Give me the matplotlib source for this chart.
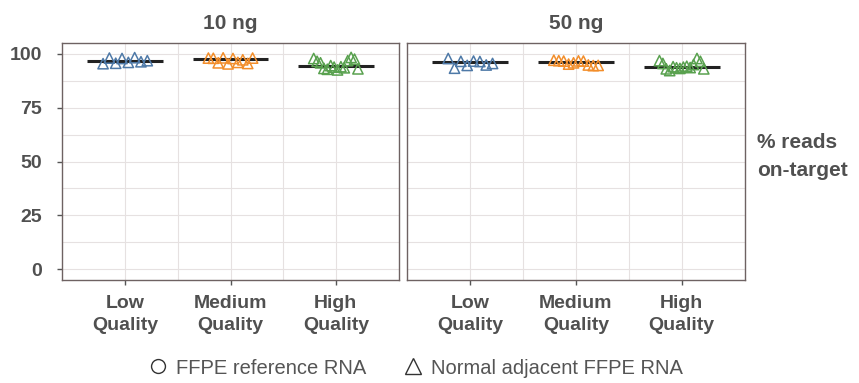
import matplotlib
matplotlib.use('Agg')
import matplotlib.pyplot as plt
from matplotlib.lines import Line2D
import numpy as np

plt.rcParams['font.family'] = ['Liberation Sans', 'DejaVu Sans']

# Datos
panels = ['10 ng', '50 ng']
categories = ['Low\nQuality', 'Medium\nQuality', 'High\nQuality']
colors = ['#4e79a7', '#f28e2b', '#59a14f']

# % reads on-target, normal adjacent FFPE RNA (triangulos)
low_10 = [95.4, 98.0, 95.6, 97.8, 96.0, 98.2, 96.3, 96.8]
med_10 = [98.0, 97.9, 95.8, 98.1, 95.3, 97.8, 96.0, 97.2, 95.5, 98.0]
high_10 = [97.8, 96.5, 95.8, 93.2, 92.8, 94.5, 93.8, 92.5, 94.0, 93.5, 96.8, 98.3, 97.5, 93.0]
low_50 = [97.8, 93.3, 96.5, 94.6, 96.6, 96.4, 94.8, 95.5]
med_50 = [97.0, 96.8, 96.6, 95.2, 95.8, 96.7, 96.6, 94.8, 94.5, 94.6]
high_50 = [96.8, 95.5, 93.0, 92.2, 94.0, 93.5, 93.2, 93.8, 94.2, 93.6, 95.0, 97.8, 96.5, 93.0]

data = {'10 ng': [low_10, med_10, high_10], '50 ng': [low_50, med_50, high_50]}

text_gray = '#505050'
frame_col = '#6e6262'
grid_col = '#e6e1e1'

fig = plt.figure(figsize=(8.59, 3.83), dpi=100)
W, H = 859, 383
boxes = [(62, 43, 337, 237), (407, 43, 338, 237)]

for i, (panel, (x0, y0, w, h)) in enumerate(zip(panels, boxes)):
    ax = fig.add_axes([x0 / W, 1 - (y0 + h) / H, w / W, h / H])
    for j, vals in enumerate(data[panel]):
        n = len(vals)
        offs = np.linspace(-0.21, 0.21, n)
        ax.scatter(j + offs, vals, marker='^', s=55, facecolors='none',
                   edgecolors=colors[j], linewidths=1.1, zorder=3)
        ax.hlines(np.median(vals), j - 0.36, j + 0.36, color='#222222', lw=2.2, zorder=2)
    ax.set_xlim(-0.6, 2.6)
    ax.set_ylim(-5, 105)
    ax.set_xticks(range(3))
    ax.set_xticklabels(categories, fontsize=14, fontweight='bold', color=text_gray,
                       linespacing=1.45)
    ax.set_yticks([0, 25, 50, 75, 100])
    ax.set_yticks([12.5, 37.5, 62.5, 87.5], minor=True)
    ax.set_xticks([0.5, 1.5], minor=True)
    ax.grid(True, which='both', color=grid_col, lw=0.8)
    ax.set_axisbelow(True)
    ax.tick_params(axis='x', which='major', length=3.5, color='#555555', width=1, pad=7)
    ax.tick_params(axis='y', which='major', length=3.5, color='#555555', width=1, pad=11)
    ax.tick_params(axis='both', which='minor', length=0)
    if i == 0:
        ax.set_yticklabels(['0', '25', '50', '75', '100'], fontsize=14,
                           fontweight='bold', color=text_gray)
    else:
        ax.tick_params(axis='y', which='major', length=0, labelleft=False)
    for s in ax.spines.values():
        s.set_color(frame_col)
        s.set_linewidth(1.0)
    ax.set_title(panel, fontsize=15, fontweight='bold', color=text_gray, pad=10)

fig.text(757 / W, 1 - 156 / H, '% reads\non-target', fontsize=15, fontweight='bold',
         color=text_gray, ha='left', va='center', linespacing=1.6)

handles = [
    Line2D([], [], marker='o', ls='none', markerfacecolor='none',
           markeredgecolor='#333333', markersize=10, label='FFPE reference RNA'),
    Line2D([], [], marker='^', ls='none', markerfacecolor='none',
           markeredgecolor='#333333', markersize=11, label='Normal adjacent FFPE RNA'),
]
leg = fig.legend(handles=handles, loc='center', bbox_to_anchor=(0.48, 1 - 368 / H), ncol=2,
                 frameon=False, fontsize=14.5, handletextpad=0.1, columnspacing=1.55,
                 handlelength=1.6)
for t in leg.get_texts():
    t.set_color('#555555')

fig.savefig('out.png', dpi=100)
